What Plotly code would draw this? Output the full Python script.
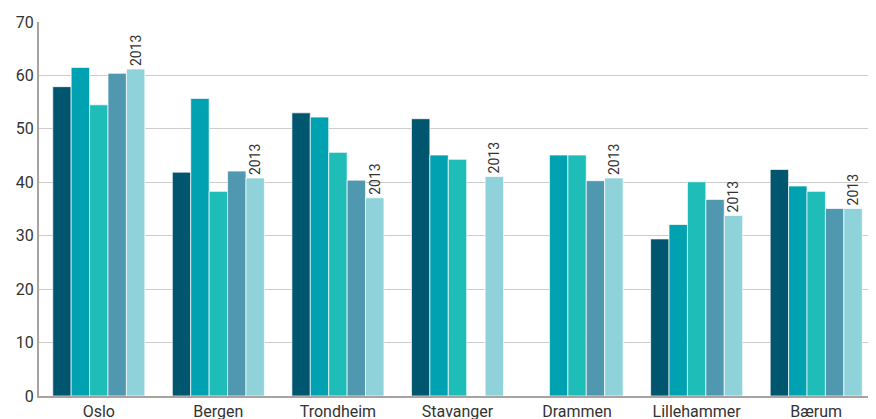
import plotly.graph_objects as go

# Cities along the x axis
cities = ["Oslo", "Bergen", "Trondheim", "Stavanger", "Drammen", "Lillehammer", "Bærum"]

# Five yearly series, the last one is 2013 (None = no bar)
years = ["2009", "2010", "2011", "2012", "2013"]
values_2009 = [57.9, 41.9, 53.0, 51.9, None, 29.4, 42.4]
values_2010 = [61.5, 55.7, 52.2, 45.1, 45.1, 32.1, 39.3]
values_2011 = [54.5, 38.3, 45.6, 44.3, 45.1, 40.1, 38.3]
values_2012 = [60.4, 42.1, 40.4, None, 40.3, 36.8, 35.1]
values_2013 = [61.2, 40.8, 37.1, 41.1, 40.8, 33.8, 35.1]

colors = ["#00566f", "#00a1b1", "#1ebdb8", "#5097b0", "#8fd2da"]

series = [values_2009, values_2010, values_2011, values_2012, values_2013]

fig = go.Figure()
for i, (year, vals) in enumerate(zip(years, series)):
    last = i == len(series) - 1
    fig.add_trace(
        go.Bar(
            x=cities,
            y=vals,
            name=year,
            marker=dict(color=colors[i], line=dict(color="rgba(255,255,255,0.7)", width=1)),
            text=[year if v is not None else "" for v in vals] if last else None,
            textposition="outside" if last else "none",
            textangle=-90,
            constraintext="none",
            textfont=dict(family="Roboto, sans-serif", size=14, color="#333333"),
            cliponaxis=False,
        )
    )

# the page body keeps its default 8px margin, so the figure is a bit smaller
fig.update_layout(
    width=868,
    height=411,
    barmode="group",
    bargap=0.23,
    bargroupgap=0,
    showlegend=False,
    plot_bgcolor="white",
    paper_bgcolor="white",
    margin=dict(l=31, r=0, t=14, b=23),
    font=dict(family="Roboto, sans-serif", size=16, color="#333333"),
)
fig.update_xaxes(
    showline=True,
    linecolor="#a8a3a0",
    linewidth=2,
    showgrid=False,
    ticks="",
    automargin=False,
    tickfont=dict(size=16, color="#333333"),
)
fig.update_yaxes(
    range=[0, 70],
    dtick=10,
    showline=True,
    linecolor="#a8a3a0",
    linewidth=2,
    gridcolor="#cccccc",
    gridwidth=1,
    zeroline=False,
    ticks="",
    automargin=False,
    tickfont=dict(size=16, color="#333333"),
)

fig.write_html("out.html")
